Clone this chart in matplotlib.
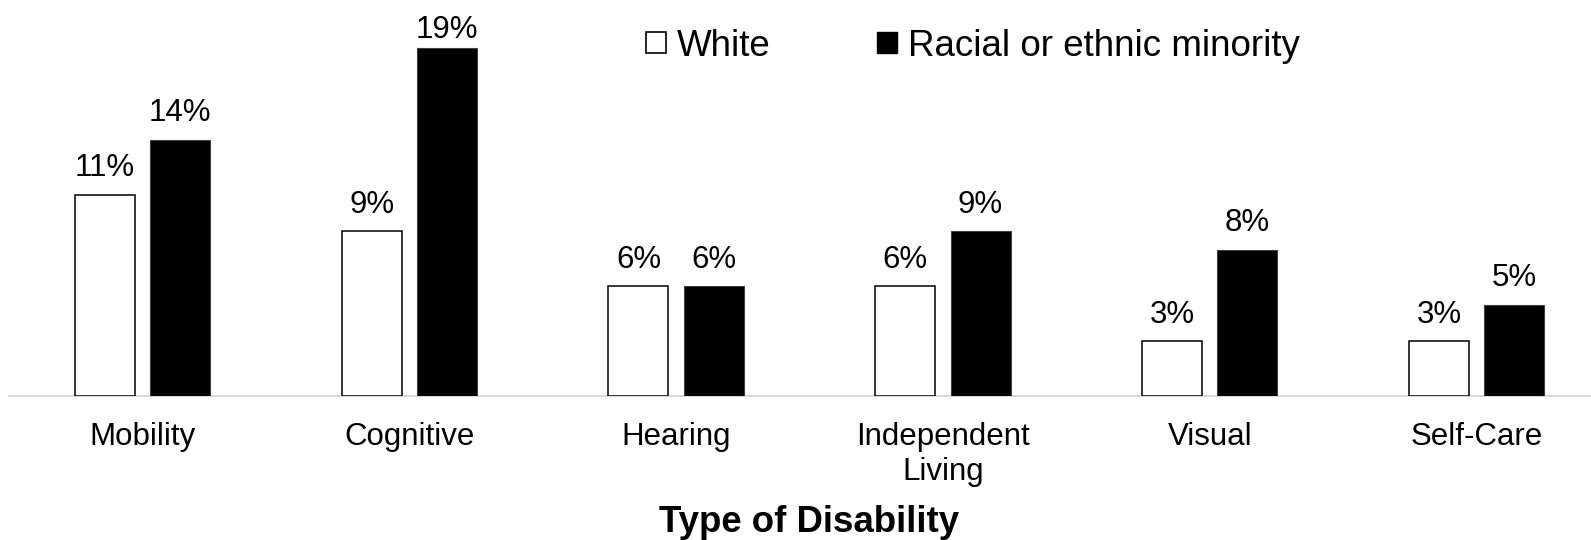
import numpy as np
import matplotlib.pyplot as plt
from matplotlib.patches import Patch

# Disability prevalence by type (percent)
categories = ["Mobility", "Cognitive", "Hearing", "Independent\nLiving", "Visual", "Self-Care"]
white = [11, 9, 6, 6, 3, 3]
minority = [14, 19, 6, 9, 8, 5]
series_names = ["White", "Racial or ethnic minority"]

plt.rcParams['font.family'] = ['Liberation Sans', 'DejaVu Sans']

W, H = 1591, 540
DPI = 100
fig = plt.figure(figsize=(W / DPI, H / DPI), dpi=DPI)

# axes run a little past the right edge of the figure
ax_h = 396
ax = fig.add_axes([9 / W, (H - ax_h) / H, 1601 / W, ax_h / H])

ymax = 21.64
x = np.arange(len(categories))
off = 0.141
bw = 0.225

b1 = ax.bar(x - off, white, bw, color='white', edgecolor='black', linewidth=1.1, zorder=3)
b2 = ax.bar(x + off, minority, bw, color='black', edgecolor='#404040', linewidth=0.8, zorder=3)

# value labels above bars, pulled down a bit when they would run off the top
px_per_unit = ax_h / ymax
gap_px = 18.5
for bars, vals in [(b1, white), (b2, minority)]:
    for rect, v in zip(bars, vals):
        room = (ymax - v) * px_per_unit - 38
        g = min(gap_px, room)
        ax.annotate(f"{v}%", (rect.get_x() + rect.get_width() / 2, v),
                    xytext=(0, g * 72 / DPI), textcoords='offset points',
                    ha='center', va='baseline', fontsize=22.5)

ax.set_xlim(-0.5, len(categories) - 0.5)
ax.set_ylim(0, ymax)
ax.set_yticks([])
ax.set_xticks(x)
ax.set_xticklabels(categories, fontsize=22.5)
ax.tick_params(axis='x', length=0, pad=19)

for s in ['top', 'right', 'left']:
    ax.spines[s].set_visible(False)
ax.spines['bottom'].set_color('#d9d9d9')
ax.spines['bottom'].set_linewidth(1.5)

ax.set_xlabel("Type of Disability", fontsize=26.4, fontweight='bold')
ax.xaxis.set_label_coords(0.5, (8 - (H - ax_h)) / ax_h)
ax.xaxis.label.set_va('baseline')

handles = [Patch(facecolor='white', edgecolor='black', linewidth=1.2),
           Patch(facecolor='black', edgecolor='black')]
leg = ax.legend(handles, series_names, ncol=2, frameon=False,
                loc='center left', bbox_to_anchor=(646 / W, 1 - 46 / H),
                bbox_transform=fig.transFigure, fontsize=26.5,
                handlelength=0.54, handleheight=0.54, handletextpad=0.3,
                columnspacing=2.9, borderpad=0, borderaxespad=0)

fig.savefig("out.png", dpi=DPI)
